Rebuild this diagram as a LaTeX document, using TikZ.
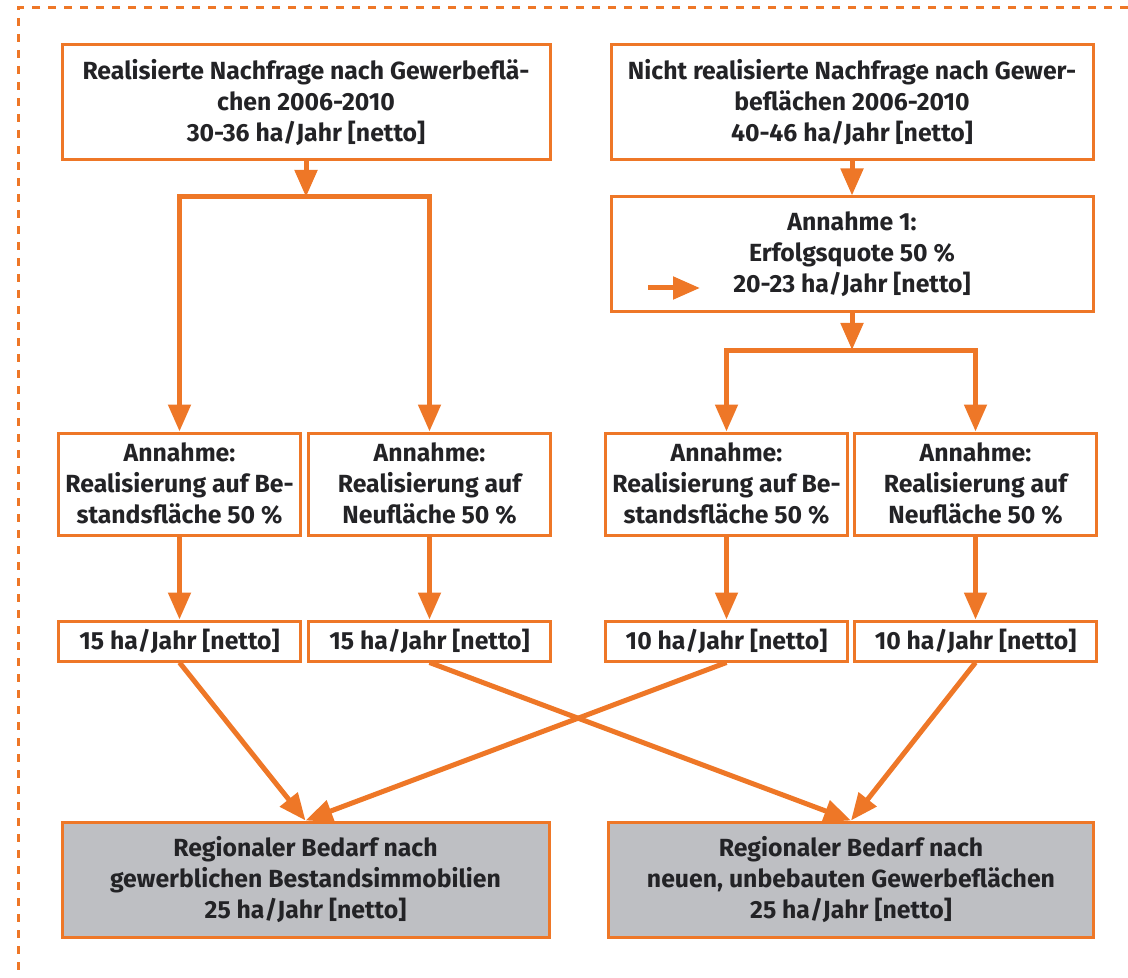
\documentclass[tikz,border=0pt]{standalone}
\usepackage{fontspec}
\setmainfont{Fira Sans}
\usetikzlibrary{arrows.meta}
\definecolor{orangelinie}{RGB}{238,119,39}
\definecolor{boxgrau}{RGB}{190,191,195}
\definecolor{schrift}{RGB}{35,35,38}
\tikzset{
  kasten/.style={draw=orangelinie, line width=1.5pt, fill=white, align=center,
    text=schrift, font=\bfseries\fontsize{12.4}{15.5}\selectfont, inner sep=0pt},
  bedarfkasten/.style={kasten, fill=boxgrau},
  pfeil/.style={draw=orangelinie, line width=2.5pt, -{Triangle[length=13.5pt,width=11pt]}},
  zweig/.style={draw=orangelinie, line width=2.5pt,
    {Triangle[length=13.5pt,width=11pt]}-{Triangle[length=13.5pt,width=11pt]}},
}
\begin{document}
\begin{tikzpicture}[x=0.5pt, y=-0.5pt]
    \useasboundingbox (0,0) rectangle (1128,978);
    \draw[orangelinie, line width=1.5pt, dash pattern=on 4pt off 4pt] (1128,8) -- (18,8) -- (18,978);
    % obere Reihe
    \node[kasten, minimum width=244pt, minimum height=57.5pt] (realisiert) at (306,102.5)
        {Realisierte Nachfrage nach Gewerbeflä-\\chen 2006-2010\\30-36 ha/Jahr [netto]};
    \node[kasten, minimum width=241pt, minimum height=57.5pt] (nichtreal) at (852,102.5)
        {Nicht realisierte Nachfrage nach Gewer-\\beflächen 2006-2010\\40-46 ha/Jahr [netto]};
    \node[kasten, minimum width=241pt, minimum height=57.5pt] (annahme1) at (852,254.5)
        {Annahme 1:\\Erfolgsquote 50 \%\\20-23 ha/Jahr [netto]};
    % Annahmen
    \node[kasten, minimum width=121pt, minimum height=51pt] (bestand1) at (179.5,484)
        {Annahme:\\Realisierung auf Be-\\standsfläche 50 \%};
    \node[kasten, minimum width=121pt, minimum height=51pt] (neu1) at (429.5,484)
        {Annahme:\\Realisierung auf\\Neufläche 50 \%};
    \node[kasten, minimum width=121pt, minimum height=51pt] (bestand2) at (726.5,484)
        {Annahme:\\Realisierung auf Be-\\standsfläche 50 \%};
    \node[kasten, minimum width=121pt, minimum height=51pt] (neu2) at (975.5,484)
        {Annahme:\\Realisierung auf\\Neufläche 50 \%};
    % Werte
    \node[kasten, minimum width=121pt, minimum height=20pt] (wert1) at (179.5,641) {15 ha/Jahr [netto]};
    \node[kasten, minimum width=121pt, minimum height=20pt] (wert2) at (429.5,641) {15 ha/Jahr [netto]};
    \node[kasten, minimum width=121pt, minimum height=20pt] (wert3) at (726.5,641) {10 ha/Jahr [netto]};
    \node[kasten, minimum width=121pt, minimum height=20pt] (wert4) at (975.5,641) {10 ha/Jahr [netto]};
    % Bedarf
    \node[bedarfkasten, minimum width=243.5pt, minimum height=57.5pt] (bedarfbestand) at (305.5,879.5)
        {Regionaler Bedarf nach\\gewerblichen Bestandsimmobilien\\25 ha/Jahr [netto]};
    \node[bedarfkasten, minimum width=242.5pt, minimum height=57.5pt] (bedarfneu) at (851,879.5)
        {Regionaler Bedarf nach\\neuen, unbebauten Gewerbeflächen\\25 ha/Jahr [netto]};
    % Verzweigungen
    \coordinate (gabel1) at (306,197);
    \coordinate (gabel2) at (852,350);
    \draw[pfeil] (realisiert.south) -- (gabel1);
    \draw[zweig] (bestand1.north) |- (gabel1) -| (neu1.north);
    \draw[pfeil] (nichtreal.south) -- (annahme1.north);
    \draw[pfeil] (annahme1.south) -- (gabel2);
    \draw[zweig] (bestand2.north) |- (gabel2) -| (neu2.north);
    \coordinate (kleinstart) at (648,288);
    \coordinate (kleinende) at (700,288);
    \draw[pfeil] (kleinstart) -- (kleinende);
    % senkrechte Pfeile
    \draw[pfeil] (bestand1) -- (wert1);
    \draw[pfeil] (neu1) -- (wert2);
    \draw[pfeil] (bestand2) -- (wert3);
    \draw[pfeil] (neu2) -- (wert4);
    % Kreuzung
    \draw[pfeil] (wert1.south) -- (bedarfbestand.north);
    \draw[pfeil] (wert3.south) -- (bedarfbestand.north);
    \draw[pfeil] (wert2.south) -- (bedarfneu.north);
    \draw[pfeil] (wert4.south) -- (bedarfneu.north);
\end{tikzpicture}
\end{document}
